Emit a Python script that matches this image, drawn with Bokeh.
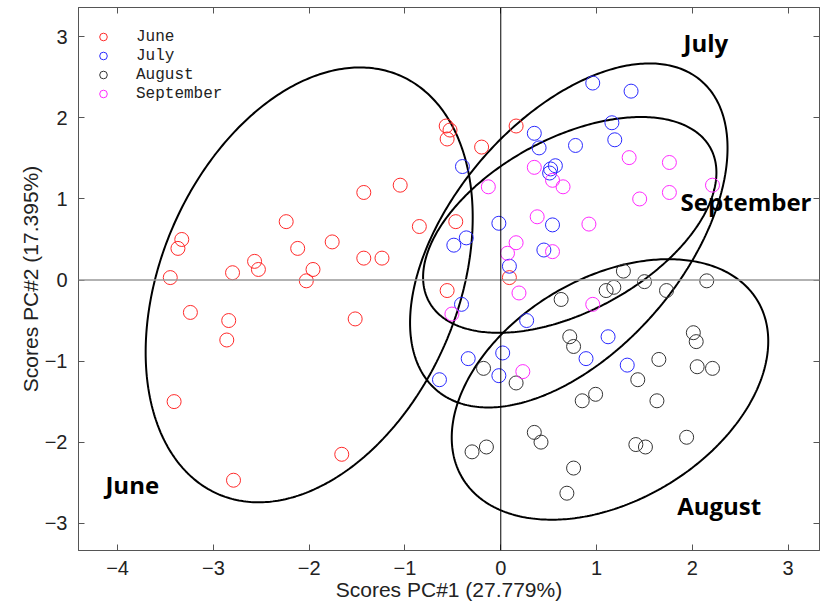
import numpy as np
from bokeh.plotting import figure
from bokeh.models import Range1d, Span, LinearAxis, Legend, LegendItem, FixedTicker
from bokeh.core.properties import value
from bokeh.embed import file_html
from bokeh.resources import INLINE

# ---------------- data ----------------
june_x = [-1.43, -2.24, -3.33, -3.37, -2.12, -1.76, -1.43, -1.24, -3.45, -2.80, -2.57,
          -2.53, -1.96, -2.03, -3.24, -2.84, -2.86, -1.52, -3.41, -1.66, -2.79, -0.57,
          -0.53, -0.56, 0.16, -0.20, -1.05, -0.85, -0.47, 0.09, -0.56]
june_y = [1.08, 0.72, 0.50, 0.39, 0.39, 0.47, 0.27, 0.27, 0.03, 0.09, 0.23,
          0.13, 0.13, -0.01, -0.40, -0.50, -0.74, -0.48, -1.50, -2.15, -2.47, 1.90,
          1.85, 1.74, 1.90, 1.64, 1.17, 0.66, 0.72, 0.03, -0.13]

july_x = [0.96, 1.36, 1.16, 1.19, 0.35, 0.40, 0.78, -0.40, 0.57, 0.52, 0.51, -0.02, 0.54,
          -0.36, -0.49, 0.45, 0.09, -0.41, 0.27, 1.12, 0.89, 1.32, -0.34, 0.02, -0.02, -0.64]
july_y = [2.43, 2.33, 1.94, 1.73, 1.81, 1.63, 1.66, 1.40, 1.41, 1.37, 1.32, 0.70, 0.68,
          0.52, 0.43, 0.37, 0.17, -0.30, -0.50, -0.70, -0.97, -1.05, -0.97, -0.90, -1.18, -1.23]

aug_x = [1.28, 1.50, 2.15, 1.10, 1.18, 1.73, 0.63, 0.72, 0.76, 1.65, 2.01, 2.04, 2.05, 2.21,
         1.43, 0.99, 0.85, 1.63, -0.18, 0.16, 0.35, 0.42, -0.30, -0.15, 1.41, 1.51, 1.94,
         0.76, 0.69]
aug_y = [0.11, -0.02, -0.01, -0.13, -0.09, -0.13, -0.24, -0.70, -0.82, -0.98, -0.65, -0.76,
         -1.07, -1.09, -1.23, -1.41, -1.49, -1.49, -1.09, -1.27, -1.88, -2.00, -2.12, -2.06,
         -2.03, -2.06, -1.94, -2.32, -2.63]

sep_x = [1.34, 1.76, 0.35, 0.54, 0.65, -0.13, 2.21, 1.76, 1.45, 0.38, 0.92, 0.16, 0.07,
         0.54, 0.19, 0.96, -0.51, 0.23]
sep_y = [1.51, 1.45, 1.39, 1.23, 1.15, 1.15, 1.17, 1.08, 1.00, 0.78, 0.69, 0.46, 0.33,
         0.35, -0.16, -0.30, -0.42, -1.13]

series_names = ["June", "July", "August", "September"]

# confidence ellipses: centre, spread in x, spread in y, correlation
ell_cx = [-2.00, 0.71, 1.14, 0.72]
ell_cy = [-0.06, 0.55, -1.35, 0.68]
ell_sx = [1.707, 1.657, 1.652, 1.531]
ell_sy = [2.682, 2.122, 1.607, 1.331]
ell_rho = [0.31, 0.508, 0.37, 0.485]

group_labels = ["June", "July", "August", "September"]

x_ticks = [-4, -3, -2, -1, 0, 1, 2, 3]
y_ticks = [-3, -2, -1, 0, 1, 2, 3]

# ---------------- figure ----------------
p = figure(width=820, height=603, output_backend="svg", toolbar_location=None,
           x_range=Range1d(-4.408, 3.327), y_range=Range1d(-3.337, 3.362),
           min_border_left=78, min_border_right=1, min_border_top=7, min_border_bottom=50,
           x_axis_label="Scores PC#1 (27.779%)", y_axis_label="Scores PC#2 (17.395%)")
p.grid.visible = False
p.outline_line_color = "#555555"
p.background_fill_color = "white"

for ax in (p.xaxis[0], p.yaxis[0]):
    ax.major_tick_in = 6
    ax.major_tick_out = 0
    ax.minor_tick_line_color = None
    ax.axis_line_color = "#555555"
    ax.major_tick_line_color = "#555555"
    ax.major_label_text_font = "Liberation Sans"
    ax.major_label_text_font_size = "20px"
    ax.major_label_text_color = "#222222"
    ax.axis_label_text_font = "Liberation Sans"
    ax.axis_label_text_font_size = "21px"
    ax.axis_label_text_font_style = "normal"
    ax.axis_label_text_color = "#222222"
p.xaxis[0].ticker = FixedTicker(ticks=x_ticks)
p.yaxis[0].ticker = FixedTicker(ticks=y_ticks)
p.xaxis[0].major_label_standoff = 10
p.xaxis[0].axis_label_standoff = 0
p.yaxis[0].major_label_standoff = 11
p.yaxis[0].axis_label_standoff = 0

top_ax = LinearAxis(ticker=FixedTicker(ticks=x_ticks))
right_ax = LinearAxis(ticker=FixedTicker(ticks=y_ticks))
for ax in (top_ax, right_ax):
    ax.major_tick_in = 6
    ax.major_tick_out = 0
    ax.minor_tick_line_color = None
    ax.axis_line_color = "#555555"
    ax.major_tick_line_color = "#555555"
    ax.major_label_text_font_size = "1px"
    ax.major_label_text_color = None
    ax.major_label_standoff = 0
p.add_layout(top_ax, "above")
p.add_layout(right_ax, "right")

# zero lines
p.add_layout(Span(location=0, dimension="width", line_color="#999999", line_width=1.5))
p.add_layout(Span(location=0, dimension="height", line_color="black", line_width=1))

# ellipses
t = np.linspace(0, 2 * np.pi, 400)
for cx, cy, sx, sy, r in zip(ell_cx, ell_cy, ell_sx, ell_sy, ell_rho):
    ex = cx + sx * np.cos(t)
    ey = cy + sy * (r * np.cos(t) + np.sqrt(1 - r * r) * np.sin(t))
    p.line(ex, ey, line_color="black", line_width=2)

# points
colors = ["#ff2a2a", "#2a2aff", "#333333", "#ff2aff"]
renderers = []
for xs, ys, c in zip([june_x, july_x, aug_x, sep_x], [june_y, july_y, aug_y, sep_y], colors):
    r = p.scatter(xs, ys, marker="circle", size=14, fill_color=None, line_color=c, line_width=1)
    renderers.append(r)

# group labels (annotation positions, screen-read)
lab_x = [-4.127, 1.907, 1.841, 1.876]
lab_y = [-2.525, 2.93, -2.78, 0.964]
p.text(lab_x, lab_y, text=group_labels, text_font=value("Open Sans"), text_font_style="bold",
       text_font_size="24px", text_color="black", text_align="left", text_baseline="alphabetic")

legend = Legend(items=[LegendItem(label=n, renderers=[r]) for n, r in zip(series_names, renderers)],
                location=(13, 447), padding=0, margin=0, spacing=0,
                glyph_width=24, glyph_height=19, label_height=19, label_standoff=21,
                label_text_font="Liberation Mono", label_text_font_size="16px",
                label_text_color="#222222", border_line_color=None, background_fill_alpha=0)
p.add_layout(legend)

open("out.html", "w").write(file_html(p, INLINE))
